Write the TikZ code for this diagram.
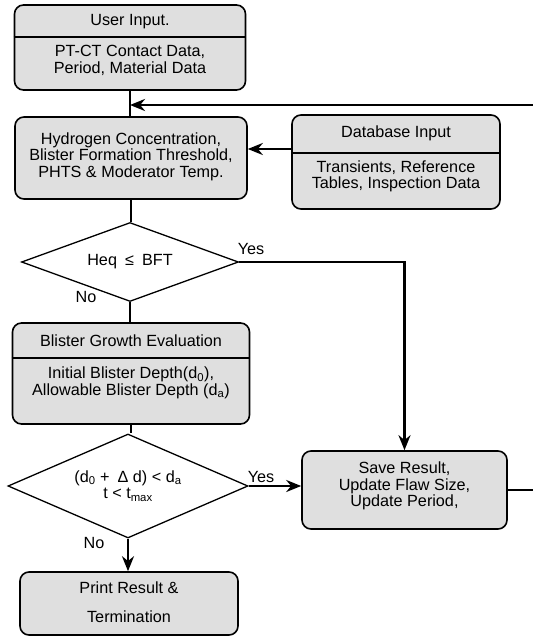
\documentclass[tikz,border=0pt]{standalone}
\usepackage{fontspec}
\setmainfont{Liberation Sans}
\usetikzlibrary{shapes.geometric,arrows.meta}
\newcommand{\fs}{\fontsize{16.2}{16.4}\selectfont}

\begin{document}
\begin{tikzpicture}[x=1pt,y=-1pt,
  box/.style={draw, line width=1.6pt, rounded corners=9pt, fill=gray!25, inner sep=0pt},
  txt/.style={font=\fs, align=center, inner sep=0pt},
  decision/.style={draw, diamond, line width=1.3pt, inner sep=0pt, font=\fs, align=center, aspect=2.3},
  line/.style={line width=2.8pt},
  flow/.style={line width=2.8pt, -{Stealth[length=15pt,width=12pt]}},
  lbl/.style={font=\fs, inner sep=1pt}]

  \path[use as bounding box, fill=white] (0,0) rectangle (532,636);

  % input boxes
  \node[box, minimum width=231pt, minimum height=85pt] (ui) at (130,47.5) {};
  \node[txt] (uititle) at (130,21.5) {User Input.};
  \node[txt] (uibody) at (130,60.5) {PT-CT Contact Data,\\Period, Material Data};
  \draw[line width=1.2pt] (ui.west |- 0,37) -- (ui.east |- 0,37);

  \node[box, minimum width=232pt, minimum height=82pt] (hyd) at (131,158) {};
  \node[txt] (hydbody) at (131,156.5) {Hydrogen Concentration,\\Blister Formation Threshold,\\PHTS \& Moderator Temp.};

  \node[box, minimum width=208pt, minimum height=94pt] (db) at (396,162) {};
  \node[txt] (dbtitle) at (396,133.5) {Database Input};
  \node[txt] (dbbody) at (396,176.5) {Transients, Reference\\Tables, Inspection Data};
  \draw[line width=1.2pt] (db.west |- 0,153) -- (db.east |- 0,153);

  % decision 1
  \node[decision, minimum width=217pt, minimum height=79pt] (heq) at (130,262) {Heq\enspace≤\enspace BFT};

  % growth evaluation
  \node[box, minimum width=237pt, minimum height=101pt] (bge) at (131,373.5) {};
  \node[txt] (bgetitle) at (131,341) {Blister Growth Evaluation};
  \node[txt] (bgebody) at (131,383) {Initial Blister Depth(d\textsubscript{0}),\\Allowable Blister Depth (d\textsubscript{a})};
  \draw[line width=1.2pt] (bge.west |- 0,358) -- (bge.east |- 0,358);

  % decision 2
  \node[decision, minimum width=240pt, minimum height=104pt] (chk) at (128,486) {(d\textsubscript{0} +\enspace Δ d) < d\textsubscript{a}\\t < t\textsubscript{max}};

  \node[box, minimum width=205pt, minimum height=78pt] (save) at (404.5,490) {};
  \node[txt] (savebody) at (404.5,486) {Save Result,\\Update Flaw Size,\\Update Period,};

  \node[box, minimum width=218pt, minimum height=63pt] (prt) at (129,603.5) {};
  \node[txt] (prtbody) at (129,602) {Print Result \&\\[13pt]Termination};

  % connectors
  \coordinate (join) at (130,105);
  \coordinate (loop) at (545,105);
  \draw[line] (ui.south) -- (ui.south |- hyd.north);
  \draw[flow] (save.east) -- (save.east -| loop) -- (loop) -- (join);
  \draw[flow] ([yshift=13pt]db.west) coordinate (dbout) -- (dbout -| hyd.east);
  \draw[line] (hyd.south) -- (hyd.south |- heq.north);
  \draw[flow] (heq.east) -- (heq.east -| save.north) -- (save.north);
  \draw[line] (heq.south) -- (heq.south |- bge.north);
  \draw[line] (bge.south) -- (bge.south |- chk.north);
  \draw[flow] (chk.east) -- (chk.east -| save.west);
  \draw[flow] (chk.south) -- (chk.south |- prt.north);

  % labels
  \node[lbl] (yes1) at (251,249) {Yes};
  \node[lbl] (no1) at (86,297) {No};
  \node[lbl] (yes2) at (261,477) {Yes};
  \node[lbl] (no2) at (94,543) {No};
\end{tikzpicture}
\end{document}
